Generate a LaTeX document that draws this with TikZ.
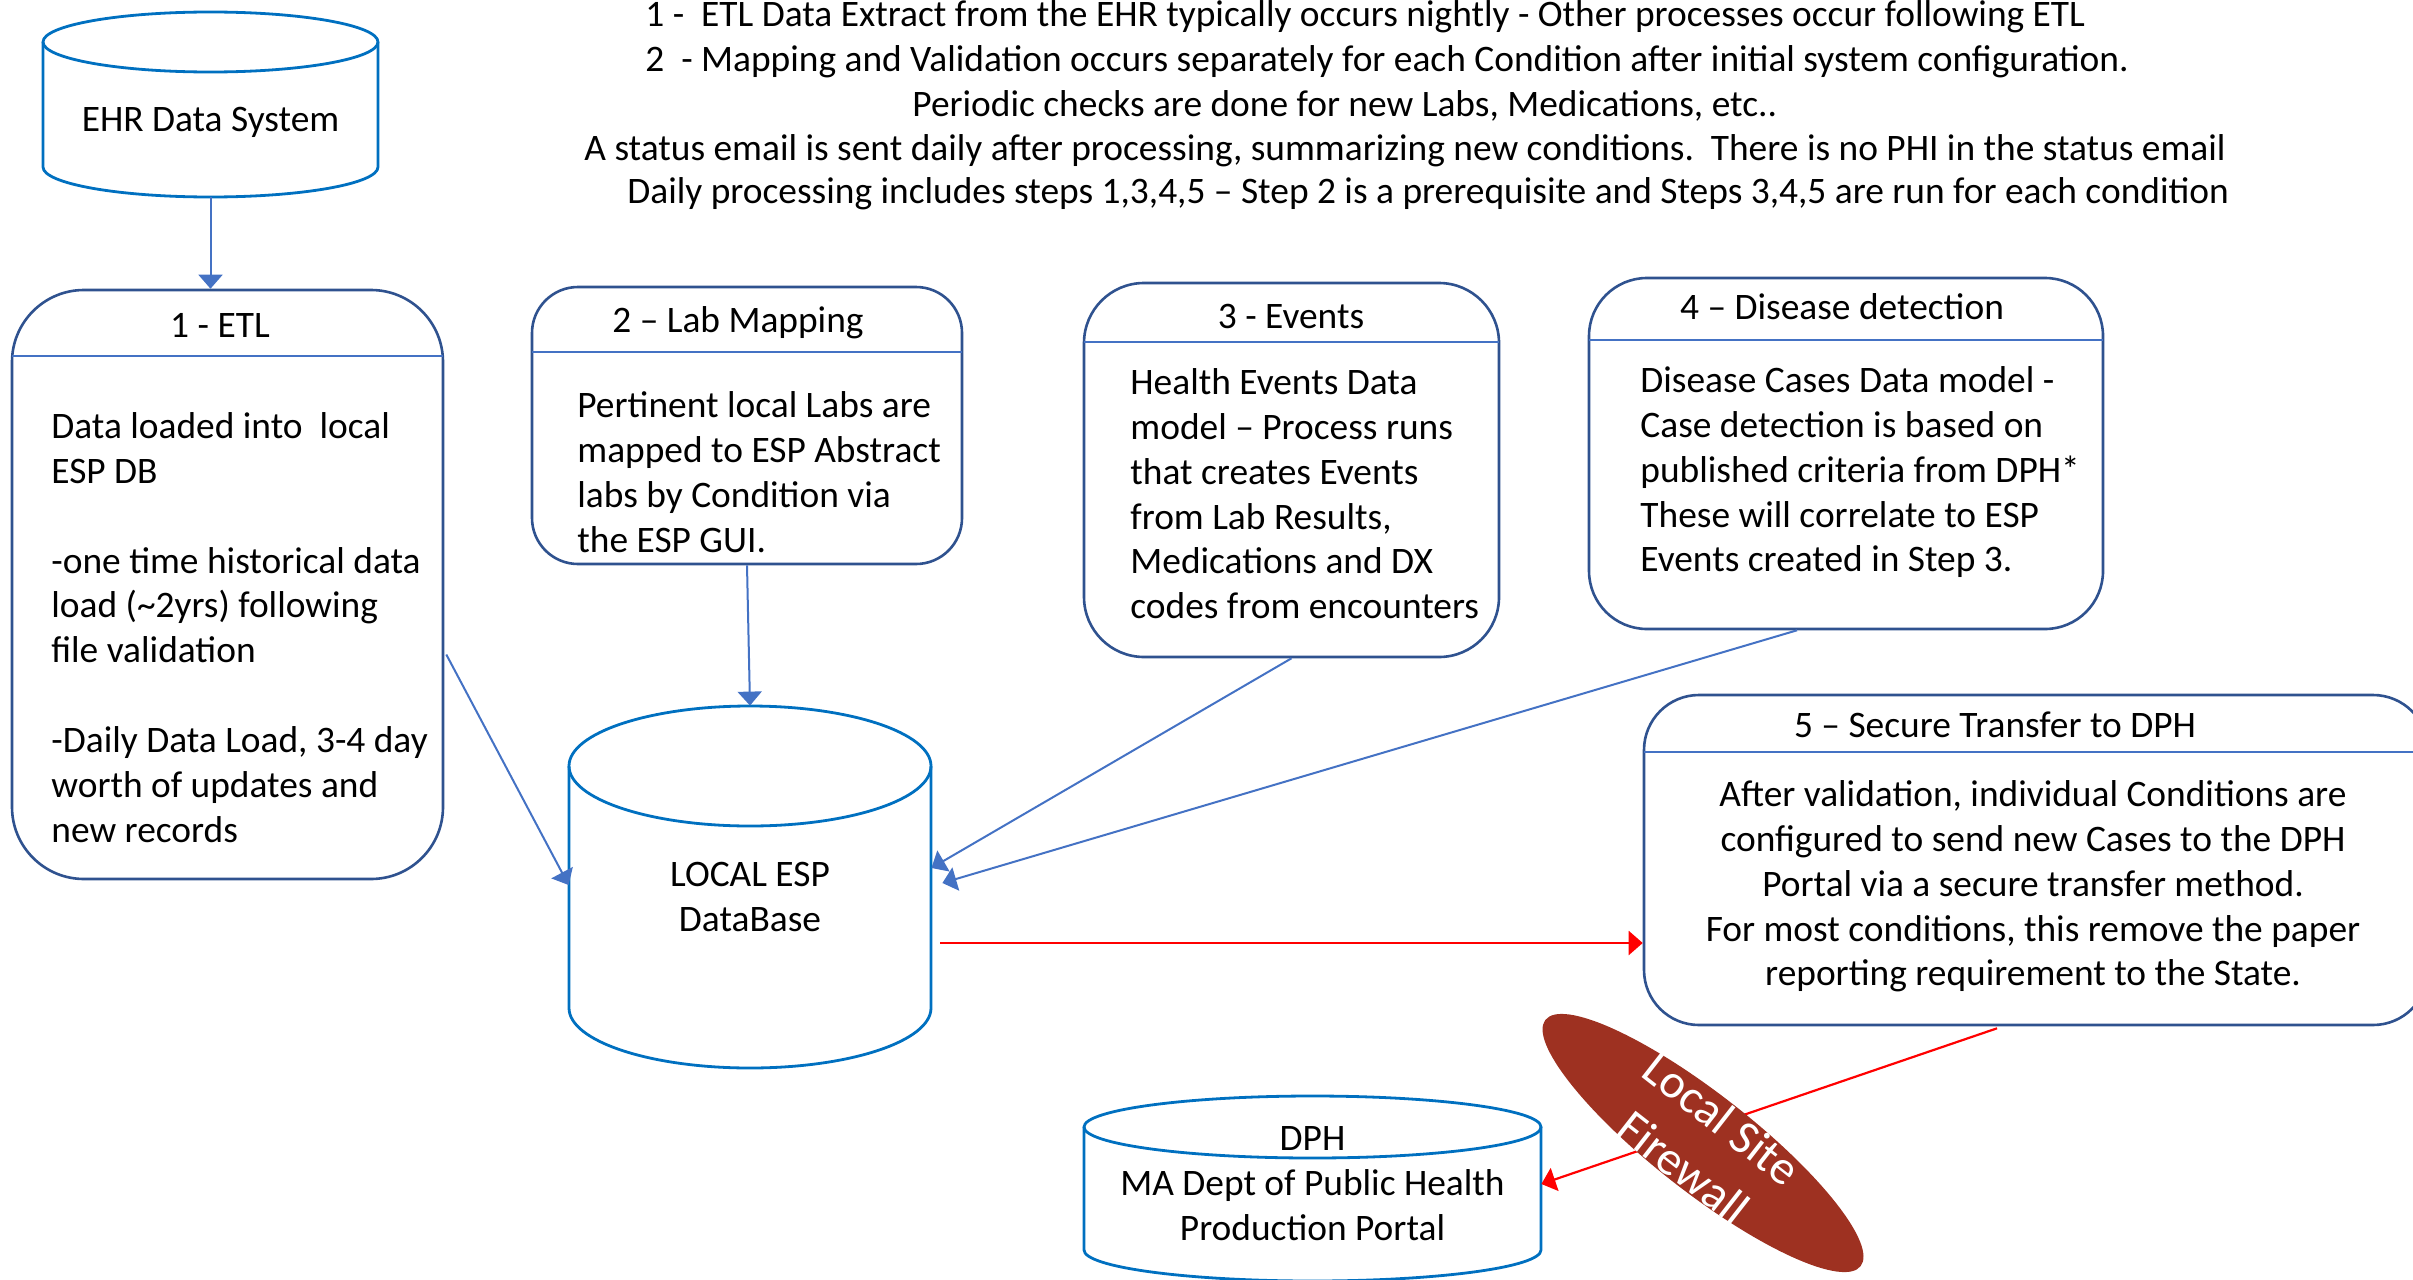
\documentclass[tikz,border=0pt]{standalone}
\usepackage{fontspec}
\setmainfont{Carlito}
\usetikzlibrary{arrows.meta,calc,fit,shapes.geometric}

\definecolor{dbblue}{RGB}{0,112,192}
\definecolor{boxblue}{RGB}{47,82,143}
\definecolor{linkblue}{RGB}{68,114,196}
\definecolor{firebrick}{RGB}{158,49,33}

\tikzset{
  stepbox/.style={draw=boxblue, line width=1.3pt, fill=white, inner sep=0pt},
  headline/.style={draw=linkblue, line width=0.7pt},
  dbline/.style={draw=dbblue, line width=1.4pt},
  flow/.style={draw=linkblue, line width=1pt, -{Triangle[length=7pt,width=12pt]}},
  secure/.style={draw=red, line width=1.1pt, -{Triangle[length=7pt,width=12pt]}},
  txt/.style={inner sep=0pt, font=\fontsize{18.7}{22.45}\selectfont},
}

\begin{document}
\begin{tikzpicture}[x=0.5pt,y=0.5pt,yscale=-1,xscale=1]
\useasboundingbox (0,0) rectangle (2413,1279);

%Shape: Can
\draw[dbline, fill=white] (43,42) -- (43,167) arc[start angle=180, end angle=0, x radius=167.5, y radius=30] -- (378,42) ;
\draw[dbline] (210.5,42) ellipse [x radius=167.5, y radius=30] ;
%Shape: Can
\draw[dbline, fill=white] (569,766) -- (569,1008) arc[start angle=180, end angle=0, x radius=181, y radius=60] -- (931,766) ;
\draw[dbline] (750,766) ellipse [x radius=181, y radius=60] ;
%Shape: Can
\draw[dbline, fill=white] (1084,1127) -- (1084,1250) arc[start angle=180, end angle=0, x radius=228.5, y radius=31] -- (1541,1127) ;
\draw[dbline] (1312.5,1127) ellipse [x radius=228.5, y radius=31] ;

% Text Node
\node[txt, minimum width=167.5pt, minimum height=75pt] (ehr) at (210.5,122) {EHR Data System};
% Text Node
\node[txt, align=center, minimum width=181pt, minimum height=191pt] (espdb) at (750,897) {LOCAL ESP\\DataBase};
% Text Node
\node[txt, align=center, minimum width=228.5pt] (dph) at (1312.5,1184) {DPH\\MA Dept of Public Health\\Production Portal};

%Rounded Rect
\node[stepbox, rounded corners=36pt, fit={(12,290) (443,879)}] (etl) {};
\draw[headline] (12,356) -- (443,356) ;
%Rounded Rect
\node[stepbox, rounded corners=23pt, fit={(532,287) (962,564)}] (labmap) {};
\draw[headline] (532,352) -- (962,352) ;
%Rounded Rect
\node[stepbox, rounded corners=30pt, fit={(1084,283) (1499,657)}] (events) {};
\draw[headline] (1084,342) -- (1499,342) ;
%Rounded Rect
\node[stepbox, rounded corners=29pt, fit={(1589,278) (2103,629)}] (detect) {};
\draw[headline] (1589,340) -- (2103,340) ;
%Rounded Rect
\node[stepbox, rounded corners=27.5pt, fit={(1644,695) (2428,1025)}] (transfer) {};
\draw[headline] (1644,752) -- (2428,752) ;

% Text Node
\node[txt] (etltitle) at (220,325) {1 - ETL};
% Text Node
\node[txt, anchor=north west, align=left] (etlbody) at (51,412) {Data loaded into\ \ local\\ESP DB\\[22.45pt]-one time historical data\\load (\textasciitilde 2yrs) following\\file validation\\[22.45pt]-Daily Data Load, 3-4 day\\worth of updates and\\new records};
% Text Node
\node[txt] (labtitle) at (738,323) {2 – Lab Mapping};
% Text Node
\node[txt, anchor=north west, align=left] (labbody) at (577,391) {Pertinent local Labs are\\mapped to ESP Abstract\\labs by Condition via\\the ESP GUI.};
% Text Node
\node[txt] (eventstitle) at (1291,316) {3 - Events};
% Text Node
\node[txt, anchor=north west, align=left] (eventsbody) at (1130,368) {Health Events Data\\model – Process runs\\that creates Events\\from Lab Results,\\Medications and DX\\codes from encounters};
% Text Node
\node[txt] (detecttitle) at (1842,307) {4 – Disease detection};
% Text Node
\node[txt, anchor=north west, align=left] (detectbody) at (1640,366) {Disease Cases Data model -\\Case detection is based on\\published criteria from DPH*\\These will correlate to ESP\\Events created in Step 3.};
% Text Node
\node[txt] (transfertitle) at (1995,725) {5 – Secure Transfer to DPH};
% Text Node
\node[txt, anchor=north, align=center] (transferbody) at (2033,780) {After validation, individual Conditions are\\configured to send new Cases to the DPH\\Portal via a secure transfer method.\\For most conditions, this remove the paper\\reporting requirement to the State.};

% Text Node
\node[txt, anchor=west] (note1) at (645,17) {1 -\ \ ETL Data Extract from the EHR typically occurs nightly - Other processes occur following ETL};
% Text Node
\node[txt, anchor=west] (note2) at (645,62) {2\ \ - Mapping and Validation occurs separately for each Condition after initial system configuration.};
% Text Node
\node[txt, anchor=west] (note3) at (912,106) {Periodic checks are done for new Labs, Medications, etc..};
% Text Node
\node[txt, anchor=west] (note4) at (584,151) {A status email is sent daily after processing, summarizing new conditions.\ \ There is no PHI in the status email};
% Text Node
\node[txt, anchor=west] (note5) at (627,194) {Daily processing includes steps 1,3,4,5 – Step 2 is a prerequisite and Steps 3,4,5 are run for each condition};

%Straight Lines
\draw[flow] (ehr.south) -- (ehr.south |- etl.north) ;
%Straight Lines
\draw[flow] (labmap.south) -- (espdb.north) ;
%Straight Lines
\draw[flow] ($(etl.east)+(2,70)$) -- ($(espdb.west)+(0,-12)$) ;
%Straight Lines
\draw[flow] (events.south) -- ($(espdb.east)+(0,-29)$) ;
%Straight Lines
\draw[flow] ($(detect.south)+(-49,0)$) -- ($(espdb.east)+(11,-14)$) ;
%Straight Lines
\coordinate (dbout) at ($(espdb.east)+(9,46)$);
\draw[secure] (dbout) -- (dbout -| transfer.west) ;
%Straight Lines
\draw[secure] ($(transfer.south)+(-39,2)$) -- (dph.east) ;

%Shape: Ellipse
\node[ellipse, fill=firebrick, inner sep=0pt, minimum width=200pt, minimum height=49pt, rotate=-38] (firewall) at (1703,1143) {};
% Text Node
\node[inner sep=0pt, align=center, text=white, rotate=-38, font=\fontsize{24}{31}\selectfont] (fwlabel) at (firewall.center) {Local Site\\Firewall};

\end{tikzpicture}
\end{document}
